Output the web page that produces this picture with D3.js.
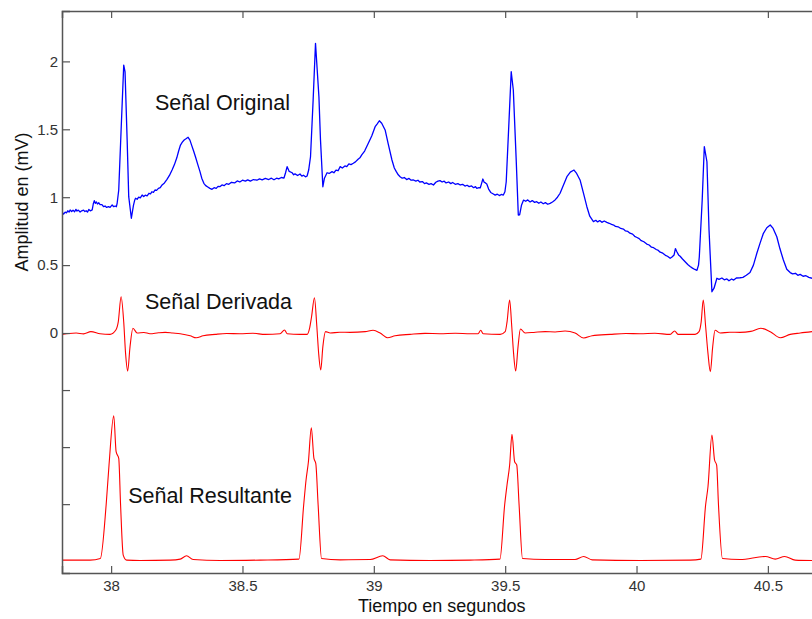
<!DOCTYPE html>
<html lang="es">
<head>
<meta charset="utf-8">
<title>Señales ECG</title>
<script src="https://cdn.jsdelivr.net/npm/d3@7"></script>
<style>
  body { margin: 0; background: #fff; }
  svg { display: block; font-family: "Liberation Sans", Arial, sans-serif; }
</style>
</head>
<body>
<script>
// tiempo (s), amplitud (mV)
var senalOriginal = [
  [37.813,0.893],[37.819,0.875],[37.825,0.89],[37.830,0.885],[37.835,0.9],[37.840,0.89],[37.844,0.906],
  [37.850,0.895],[37.855,0.905],[37.861,0.893],[37.866,0.91],[37.870,0.898],[37.875,0.905],[37.882,0.891],
  [37.888,0.9],[37.895,0.905],[37.900,0.895],[37.905,0.9],[37.910,0.89],[37.915,0.91],[37.921,0.9],
  [37.928,0.906],[37.932,0.95],[37.936,0.974],[37.940,0.955],[37.944,0.965],[37.948,0.95],[37.953,0.959],
  [37.958,0.945],[37.965,0.945],[37.971,0.93],[37.977,0.935],[37.983,0.925],[37.990,0.93],[37.996,0.925],
  [38.004,0.943],[38.010,0.93],[38.015,0.935],[38.020,0.93],[38.023,0.957],[38.029,1.053],[38.038,1.495],
  [38.048,1.973],[38.053,1.922],[38.061,1.421],[38.067,1.004],[38.077,0.845],[38.085,0.94],[38.090,0.98],
  [38.093,0.992],[38.099,0.985],[38.105,1.0],[38.111,0.995],[38.118,1.016],[38.124,1.005],[38.130,1.015],
  [38.137,1.01],[38.144,1.029],[38.150,1.025],[38.155,1.04],[38.161,1.035],[38.167,1.053],[38.173,1.05],
  [38.180,1.065],[38.187,1.07],[38.194,1.090],[38.203,1.105],[38.212,1.13],[38.222,1.16],[38.232,1.2],
  [38.241,1.24],[38.250,1.29],[38.257,1.34],[38.264,1.384],[38.271,1.405],[38.278,1.421],[38.285,1.43],
  [38.293,1.441],[38.300,1.42],[38.307,1.38],[38.314,1.34],[38.321,1.298],[38.330,1.24],[38.338,1.19],
  [38.345,1.14],[38.353,1.102],[38.360,1.085],[38.368,1.075],[38.376,1.065],[38.384,1.058],[38.392,1.07],
  [38.400,1.065],[38.407,1.08],[38.415,1.078],[38.422,1.09],[38.430,1.085],[38.439,1.1],[38.448,1.095],
  [38.458,1.11],[38.470,1.105],[38.480,1.12],[38.490,1.112],[38.500,1.125],[38.511,1.118],[38.520,1.128],
  [38.530,1.118],[38.542,1.13],[38.555,1.125],[38.565,1.135],[38.575,1.128],[38.587,1.138],[38.600,1.13],
  [38.610,1.14],[38.620,1.128],[38.630,1.14],[38.638,1.135],[38.648,1.145],[38.658,1.141],[38.664,1.18],
  [38.670,1.225],[38.678,1.19],[38.689,1.180],[38.695,1.165],[38.700,1.172],[38.710,1.16],[38.719,1.171],
  [38.726,1.155],[38.732,1.162],[38.740,1.15],[38.746,1.156],[38.752,1.2],[38.759,1.298],[38.769,1.716],
  [38.778,2.133],[38.791,1.740],[38.797,1.421],[38.806,1.077],[38.812,1.14],[38.822,1.180],[38.830,1.175],
  [38.841,1.188],[38.848,1.18],[38.856,1.2],[38.864,1.195],[38.872,1.225],[38.880,1.215],[38.890,1.23],
  [38.897,1.225],[38.905,1.245],[38.913,1.24],[38.922,1.250],[38.930,1.26],[38.940,1.28],[38.947,1.29],
  [38.954,1.311],[38.965,1.34],[38.979,1.397],[38.992,1.45],[39.005,1.519],[39.013,1.54],[39.021,1.563],
  [39.030,1.545],[39.043,1.495],[39.055,1.39],[39.069,1.274],[39.078,1.215],[39.085,1.19],[39.093,1.165],
  [39.100,1.151],[39.108,1.14],[39.116,1.145],[39.125,1.13],[39.134,1.138],[39.142,1.125],[39.151,1.127],
  [39.160,1.118],[39.168,1.125],[39.175,1.112],[39.185,1.115],[39.193,1.1],[39.200,1.105],[39.210,1.095],
  [39.218,1.1],[39.227,1.09],[39.236,1.11],[39.244,1.118],[39.252,1.122],[39.260,1.112],[39.268,1.118],
  [39.275,1.105],[39.285,1.112],[39.293,1.1],[39.300,1.108],[39.310,1.095],[39.320,1.1],[39.329,1.09],
  [39.338,1.095],[39.347,1.082],[39.355,1.088],[39.363,1.078],[39.372,1.083],[39.380,1.07],[39.387,1.078],
  [39.392,1.065],[39.400,1.07],[39.405,1.068],[39.410,1.1],[39.415,1.134],[39.420,1.11],[39.425,1.105],
  [39.430,1.097],[39.437,1.06],[39.445,1.035],[39.455,1.024],[39.462,1.015],[39.470,1.022],[39.478,1.012],
  [39.485,1.02],[39.493,1.016],[39.499,1.04],[39.504,1.114],[39.513,1.495],[39.523,1.924],[39.531,1.789],
  [39.542,1.274],[39.550,0.869],[39.555,0.87],[39.562,0.94],[39.570,0.979],[39.578,0.97],[39.586,0.98],
  [39.595,0.965],[39.603,0.975],[39.612,0.962],[39.620,0.967],[39.628,0.955],[39.636,0.965],[39.645,0.952],
  [39.653,0.96],[39.662,0.948],[39.671,0.955],[39.680,0.965],[39.690,0.98],[39.699,1.0],[39.709,1.029],
  [39.720,1.08],[39.735,1.151],[39.748,1.185],[39.762,1.200],[39.772,1.175],[39.785,1.127],[39.798,1.03],
  [39.811,0.930],[39.822,0.86],[39.836,0.820],[39.845,0.83],[39.852,0.818],[39.860,0.828],[39.868,0.815],
  [39.877,0.825],[39.887,0.815],[39.896,0.808],[39.905,0.8],[39.913,0.795],[39.920,0.785],[39.930,0.782],
  [39.940,0.77],[39.950,0.765],[39.958,0.752],[39.967,0.748],[39.975,0.735],[39.985,0.728],[39.993,0.712],
  [40.000,0.705],[40.010,0.695],[40.018,0.68],[40.028,0.672],[40.039,0.655],[40.048,0.648],[40.057,0.632],
  [40.065,0.628],[40.075,0.615],[40.083,0.608],[40.090,0.595],[40.100,0.588],[40.110,0.572],[40.118,0.565],
  [40.128,0.550],[40.135,0.56],[40.143,0.575],[40.148,0.622],[40.153,0.6],[40.160,0.575],[40.166,0.565],
  [40.175,0.545],[40.185,0.525],[40.195,0.505],[40.204,0.49],[40.213,0.478],[40.222,0.468],[40.230,0.462],
  [40.236,0.5],[40.239,0.562],[40.250,0.979],[40.258,1.372],[40.268,1.261],[40.276,0.758],[40.287,0.304],
  [40.295,0.33],[40.306,0.403],[40.314,0.395],[40.325,0.405],[40.334,0.392],[40.344,0.398],[40.352,0.385],
  [40.362,0.398],[40.370,0.39],[40.380,0.405],[40.394,0.407],[40.405,0.41],[40.418,0.425],[40.432,0.445],
  [40.445,0.5],[40.458,0.587],[40.470,0.66],[40.483,0.734],[40.496,0.775],[40.509,0.795],[40.520,0.77],
  [40.534,0.709],[40.546,0.62],[40.559,0.538],[40.572,0.47],[40.585,0.445],[40.594,0.435],[40.605,0.44],
  [40.614,0.425],[40.623,0.432],[40.634,0.418],[40.645,0.422],[40.656,0.41],[40.668,0.403]
];

var senalDerivada = [
  [37.813,-0.01],[37.840,-0.003],[37.867,0.0],[37.895,-0.006],[37.923,0.01],[37.958,-0.005],[37.996,-0.01],
  [38.018,0.022],[38.027,0.08],[38.038,0.267],[38.048,0.08],[38.055,-0.15],[38.063,-0.28],[38.072,-0.10],
  [38.083,0.035],[38.099,0.0],[38.125,0.004],[38.148,-0.005],[38.180,0.002],[38.206,0.005],[38.235,0.0],
  [38.263,-0.005],[38.301,-0.02],[38.324,-0.035],[38.350,-0.02],[38.396,-0.01],[38.440,-0.004],
  [38.491,-0.005],[38.540,-0.002],[38.586,-0.01],[38.643,-0.005],[38.660,0.022],[38.670,-0.005],
  [38.719,-0.01],[38.746,-0.01],[38.756,0.04],[38.763,0.12],[38.774,0.260],[38.783,0.05],[38.790,-0.15],
  [38.798,-0.272],[38.806,-0.10],[38.816,0.01],[38.834,0.0],[38.870,0.006],[38.910,0.005],[38.967,0.01],
  [38.997,0.02],[39.024,0.0],[39.052,-0.035],[39.081,-0.02],[39.138,-0.01],[39.195,-0.003],[39.252,-0.005],
  [39.310,-0.002],[39.367,-0.005],[39.397,-0.005],[39.407,0.02],[39.416,-0.005],[39.481,-0.01],[39.500,0.01],
  [39.507,0.08],[39.517,0.243],[39.525,0.05],[39.532,-0.15],[39.540,-0.280],[39.549,-0.10],[39.558,0.03],
  [39.576,0.0],[39.615,0.006],[39.652,0.01],[39.690,0.008],[39.728,0.015],[39.766,0.0],[39.799,-0.037],
  [39.831,-0.02],[39.900,-0.01],[39.960,-0.004],[40.014,-0.005],[40.070,-0.002],[40.128,-0.01],[40.145,0.015],
  [40.158,-0.01],[40.223,-0.01],[40.238,0.01],[40.246,0.08],[40.254,0.243],[40.263,0.05],[40.272,-0.15],
  [40.281,-0.285],[40.290,-0.10],[40.299,0.02],[40.318,0.0],[40.355,0.006],[40.394,0.005],[40.435,0.012],
  [40.473,0.035],[40.509,0.01],[40.547,-0.035],[40.585,-0.01],[40.623,0.0],[40.668,0.01]
];

var senalResultante = [
  [37.813,-1.672],[37.920,-1.672],[37.959,-1.66],[37.981,-1.266],[37.992,-0.972],[38.010,-0.609],
  [38.019,-0.874],[38.029,-0.923],[38.036,-1.266],[38.046,-1.635],[38.059,-1.672],[38.110,-1.675],
  [38.225,-1.672],[38.263,-1.665],[38.287,-1.640],[38.312,-1.668],[38.415,-1.675],[38.567,-1.672],
  [38.715,-1.665],[38.733,-1.266],[38.742,-1.082],[38.751,-0.948],[38.762,-0.697],[38.772,-0.923],
  [38.779,-0.960],[38.788,-1.266],[38.801,-1.660],[38.872,-1.670],[38.986,-1.668],[39.034,-1.640],
  [39.062,-1.670],[39.214,-1.675],[39.367,-1.672],[39.480,-1.665],[39.498,-1.266],[39.507,-1.119],
  [39.517,-0.972],[39.526,-0.746],[39.536,-0.948],[39.544,-0.972],[39.553,-1.266],[39.566,-1.660],
  [39.652,-1.668],[39.766,-1.668],[39.799,-1.645],[39.831,-1.670],[40.014,-1.675],[40.204,-1.672],
  [40.245,-1.665],[40.263,-1.266],[40.272,-1.132],[40.287,-0.751],[40.297,-0.935],[40.305,-0.972],
  [40.312,-1.266],[40.327,-1.660],[40.394,-1.668],[40.491,-1.645],[40.528,-1.665],[40.564,-1.645],
  [40.604,-1.672],[40.668,-1.675]
];

var xTicks = [38, 38.5, 39, 39.5, 40, 40.5];
var yTicks = [0, 0.5, 1, 1.5, 2];
var yTicksSinEtiqueta = [-1.26, -0.84, -0.42];

var etiquetas = [
  {texto: "Señal Original", t: 38.167, v: 1.642},
  {texto: "Señal Derivada", t: 38.129, v: 0.177},
  {texto: "Señal Resultante", t: 38.065, v: -1.252}
];

var w = 812, h = 619;
var izq = 62, arriba = 11, abajo = 573;

var x = d3.scaleLinear().domain([37.813, 41]).range([izq, izq + (41 - 37.813) * 262.7]);
var y = d3.scaleLinear().domain([-1.767, 2.371]).range([abajo, arriba]);

var svg = d3.select("body").append("svg")
  .attr("width", w)
  .attr("height", h);

svg.append("clipPath").attr("id", "area")
  .append("rect")
  .attr("x", izq).attr("y", arriba)
  .attr("width", x.range()[1] - izq).attr("height", abajo - arriba);

var linea = d3.line()
  .x(function(d) { return x(d[0]); })
  .y(function(d) { return y(d[1]); });

var lineaSuave = d3.line()
  .curve(d3.curveMonotoneX)
  .x(function(d) { return x(d[0]); })
  .y(function(d) { return y(d[1]); });

var trazos = svg.append("g").attr("clip-path", "url(#area)");

trazos.append("path").datum(senalOriginal)
  .attr("d", linea).attr("fill", "none")
  .attr("stroke", "#0000ff").attr("stroke-width", 1.3).attr("stroke-linejoin", "round");

trazos.append("path").datum(senalDerivada)
  .attr("d", lineaSuave).attr("fill", "none")
  .attr("stroke", "#ff0000").attr("stroke-width", 1.1).attr("stroke-linejoin", "round");

trazos.append("path").datum(senalResultante)
  .attr("d", lineaSuave).attr("fill", "none")
  .attr("stroke", "#ff0000").attr("stroke-width", 1.1).attr("stroke-linejoin", "round");

// ejes
var ejeX = svg.append("g")
  .attr("transform", "translate(0," + abajo + ")")
  .call(d3.axisBottom(x).tickValues(xTicks).tickSize(-7).tickPadding(7)
    .tickFormat(function(d) { return d3.format("")(d); }));

var ejeXarriba = svg.append("g")
  .attr("transform", "translate(0," + arriba + ")")
  .call(d3.axisTop(x).tickValues(xTicks).tickSize(-7).tickFormat(""));

var ejeY = svg.append("g")
  .attr("transform", "translate(" + izq + ",0)")
  .call(d3.axisLeft(y).tickValues(yTicksSinEtiqueta.concat(yTicks)).tickSize(-8).tickPadding(4)
    .tickFormat(function(d) { return d < 0 ? "" : d3.format("")(d); }));

[ejeX, ejeXarriba, ejeY].forEach(function(g) {
  g.select(".domain").attr("stroke", "#555").attr("stroke-width", 1.5);
  g.selectAll(".tick line").attr("stroke", "#555").attr("stroke-width", 1.2);
  g.selectAll(".tick text").attr("fill", "#333").attr("font-size", "15px")
    .attr("font-family", "Liberation Sans, Arial, sans-serif");
});

svg.append("text")
  .attr("x", 441.7).attr("y", 611.5)
  .attr("text-anchor", "middle")
  .attr("font-size", "18px").attr("fill", "#111")
  .text("Tiempo en segundos");

svg.append("text")
  .attr("transform", "translate(28,202) rotate(-90)")
  .attr("text-anchor", "middle")
  .attr("font-size", "18px").attr("fill", "#111")
  .text("Amplitud en (mV)");

svg.selectAll(".etiqueta")
  .data(etiquetas)
  .enter()
  .append("text")
  .attr("class", "etiqueta")
  .attr("x", function(d) { return x(d.t); })
  .attr("y", function(d) { return y(d.v); })
  .attr("font-size", "21.5px").attr("fill", "#111")
  .text(function(d) { return d.texto; });
</script>
</body>
</html>
